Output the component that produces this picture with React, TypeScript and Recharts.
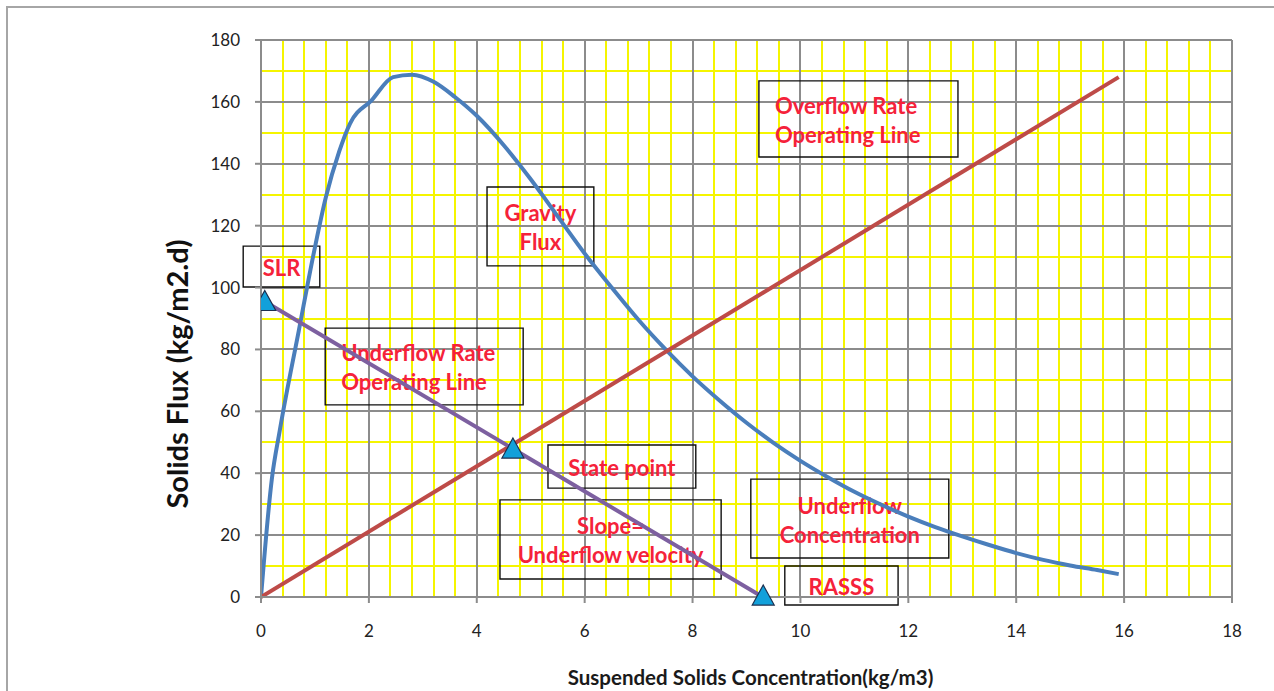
import { ComposedChart, Line, Scatter, XAxis, YAxis, CartesianGrid, ReferenceArea } from "recharts";

// gravity flux curve (kg/m3, kg/m2.d)
const fluxX = [0, 0.2, 0.35, 0.7, 1.0, 1.2, 1.45, 1.65, 2.05, 2.45, 2.8, 3.2, 3.6, 4.0, 4.5, 5.0, 5.5, 6.0, 6.5, 7.0, 7.5, 8.0, 8.5, 9.0, 9.5, 10, 10.5, 11, 11.5, 12, 12.5, 13, 13.5, 14, 14.5, 15, 15.5, 15.9];
const fluxY = [0, 38, 54, 86, 113, 129, 144, 153, 160.5, 168, 168.8, 166.5, 161.5, 155.5, 146, 135, 123, 111, 100, 89.5, 80, 71.3, 63.5, 56.3, 49.8, 44, 38.8, 34, 29.8, 26, 22.6, 19.6, 16.8, 14.2, 12, 10.2, 8.7, 7.4];

// overflow rate operating line
const overflowX = [0, 15.9];
const overflowY = [0, 168];

// underflow rate operating line (SLR -> RASSS)
const underflowX = [0.07, 9.3];
const underflowY = [95.5, 0];

// marked points: SLR, state point, RASSS
const pointX = [0.07, 4.67, 9.31];
const pointY = [95.5, 47.8, 0.3];

const xTicks = [0, 2, 4, 6, 8, 10, 12, 14, 16, 18];
const yTicks = [0, 20, 40, 60, 80, 100, 120, 140, 160, 180];

// annotation boxes: [x1, x2, y1, y2]
const notes = [
  { lines: ["Overflow Rate", "Operating Line"], box: [9.23, 12.92, 142.2, 166.8], left: true },
  { lines: ["Gravity", "Flux"], box: [4.19, 6.17, 107, 132.5], left: false },
  { lines: ["SLR"], box: [-0.33, 1.09, 100.2, 113.4], left: false },
  { lines: ["Underflow Rate", "Operating Line"], box: [1.19, 4.86, 62.1, 86.9], left: true },
  { lines: ["State point"], box: [5.32, 8.06, 35.2, 49.1], left: false },
  { lines: ["Slope=", "Underflow velocity"], box: [4.43, 8.53, 5.8, 31.4], left: false },
  { lines: ["Underflow", "Concentration"], box: [9.08, 12.75, 12.6, 38.1], left: false },
  { lines: ["RASSS"], box: [9.71, 11.81, -2.6, 10], left: false },
];

const X_MAX = 18;
const Y_MAX = 180;
const minorX = Array.from({ length: 46 }, (_, i) => i * 0.4);
const minorY = Array.from({ length: 19 }, (_, i) => i * 10);

const toPoints = (xs: number[], ys: number[]) => xs.map((x, i) => ({ x, y: ys[i] }));

const FONT = "Lato, 'Open Sans', sans-serif";

// grid values -> whole pixels inside the plot area (crisp 2px lines)
const vGen = (vals: number[]) => (p: any) =>
  vals.map((v) => Math.round(p.offset.left + (v / X_MAX) * p.offset.width));
const hGen = (vals: number[]) => (p: any) =>
  vals.map((v) => Math.round(p.offset.top + (1 - v / Y_MAX) * p.offset.height));

const Triangle = (props: any) => {
  const { cx, cy } = props;
  return (
    <path
      d={`M${cx},${cy - 11} L${cx + 11},${cy + 9} L${cx - 11},${cy + 9} Z`}
      fill="#12A0DA"
      stroke="#1C2F4F"
      strokeWidth={1.2}
    />
  );
};

const noteLabel = (lines: string[], left: boolean) => (props: any) => {
  const { x, y, width, height } = props.viewBox;
  const cx = left ? x + 16 : x + width / 2;
  const cy = y + height / 2 + 1;
  return (
    <text
      x={cx}
      y={cy}
      textAnchor={left ? "start" : "middle"}
      fill="#F5223A"
      fontFamily={FONT}
      fontWeight={700}
      fontSize={22}
    >
      {lines.map((l, i) => (
        <tspan key={i} x={cx} y={cy + (i - (lines.length - 1) / 2) * 29} dominantBaseline="central">
          {l}
        </tspan>
      ))}
    </text>
  );
};

export default function App() {
  return (
    <div style={{ position: "absolute", left: 0, top: 0, width: 1274, height: 691, background: "#fff", overflow: "hidden" }}>
      <div style={{ position: "absolute", left: 6, top: 6, width: 1300, height: 720, border: "2px solid #a6a6a6" }} />
      <div style={{ position: "absolute", left: 0, top: 0 }}>
        <ComposedChart width={1274} height={691} margin={{ top: 40, right: 42, bottom: 0, left: 0 }}>
          <CartesianGrid
            stroke="#F5F500"
            strokeWidth={2}
            verticalCoordinatesGenerator={vGen(minorX)}
            horizontalCoordinatesGenerator={hGen(minorY)}
          />
          <CartesianGrid
            stroke="#8C8C8C"
            strokeWidth={2}
            verticalCoordinatesGenerator={vGen(xTicks)}
            horizontalCoordinatesGenerator={hGen(yTicks)}
          />
          <XAxis
            type="number"
            dataKey="x"
            domain={[0, X_MAX]}
            ticks={xTicks}
            allowDataOverflow
            height={94}
            stroke="#8C8C8C"
            strokeWidth={2}
            tickSize={6}
            tickMargin={22}
            tick={{ fill: "#222", fontFamily: FONT, fontSize: 17 }}
            label={(p: any) => (
              <text
                x={p.viewBox.x + p.viewBox.width / 2 + 4}
                y={677}
                textAnchor="middle"
                dominantBaseline="central"
                fontFamily={FONT}
                fontWeight={700}
                fontSize={20.5}
                fill="#1a1a1a"
              >
                Suspended Solids Concentration(kg/m3)
              </text>
            )}
          />
          <YAxis
            type="number"
            dataKey="y"
            domain={[0, Y_MAX]}
            ticks={yTicks}
            width={261}
            stroke="#8C8C8C"
            strokeWidth={2}
            tickSize={6}
            tickMargin={15}
            tick={{ fill: "#222", fontFamily: FONT, fontSize: 17 }}
            label={() => (
              <text
                x={176}
                y={374}
                transform="rotate(-90, 176, 374)"
                textAnchor="middle"
                dominantBaseline="central"
                fontFamily={FONT}
                fontWeight={700}
                fontSize={29}
                fill="#111"
              >
                Solids Flux (kg/m2.d)
              </text>
            )}
          />
          {notes.map((n, i) => (
            <ReferenceArea
              key={i}
              x1={n.box[0]}
              x2={n.box[1]}
              y1={n.box[2]}
              y2={n.box[3]}
              ifOverflow="visible"
              fill="none"
              fillOpacity={0}
              stroke="#111"
              strokeWidth={1.4}
              label={noteLabel(n.lines, n.left)}
            />
          ))}
          <Line
            data={toPoints(fluxX, fluxY)}
            dataKey="y"
            type="monotone"
            stroke="#4A7EBB"
            strokeWidth={4}
            dot={false}
            isAnimationActive={false}
          />
          <Line
            data={toPoints(overflowX, overflowY)}
            dataKey="y"
            type="linear"
            stroke="#BE4B48"
            strokeWidth={4}
            dot={false}
            isAnimationActive={false}
          />
          <Line
            data={toPoints(underflowX, underflowY)}
            dataKey="y"
            type="linear"
            stroke="#7D60A0"
            strokeWidth={4}
            dot={false}
            isAnimationActive={false}
          />
          <Scatter data={toPoints(pointX, pointY)} dataKey="y" shape={Triangle} isAnimationActive={false} />
        </ComposedChart>
      </div>
    </div>
  );
}
